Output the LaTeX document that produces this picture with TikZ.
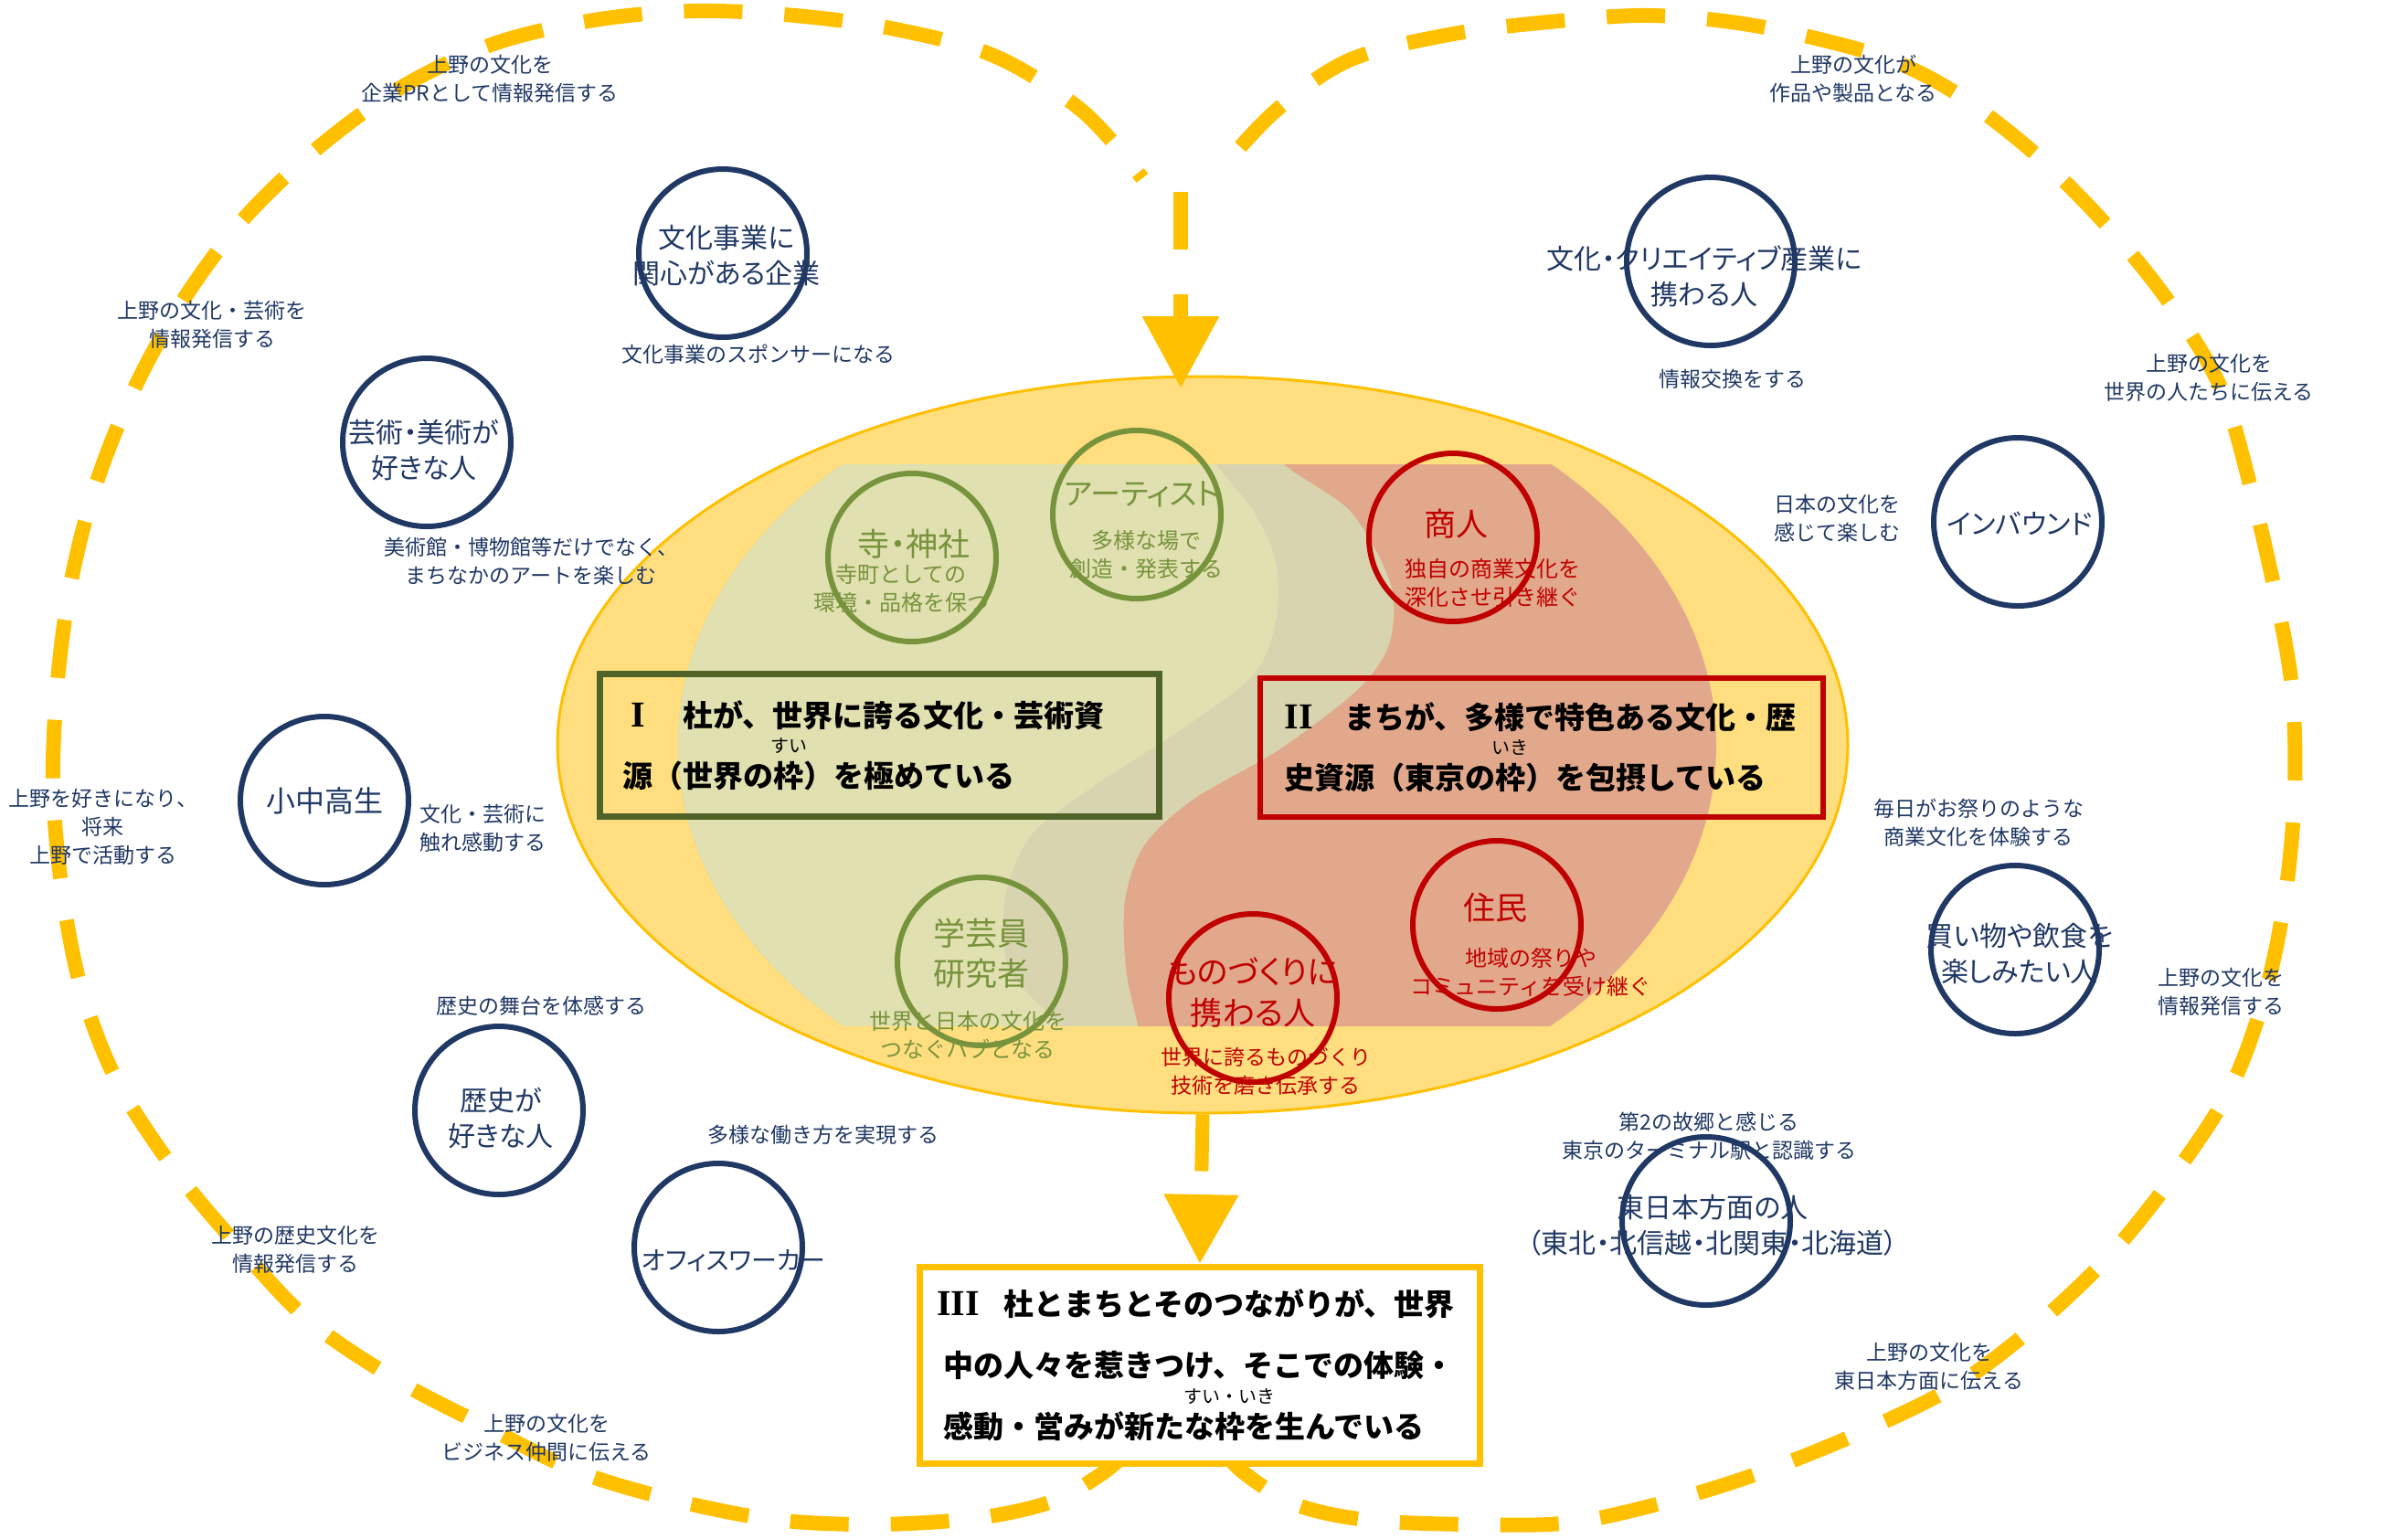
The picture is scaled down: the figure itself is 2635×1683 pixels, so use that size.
\documentclass[tikz,border=0pt]{standalone}
\usepackage{fontspec}
\setmainfont{Noto Sans CJK JP}
\newfontfamily\jpp{Noto Sans CJK JP}[RawFeature=+palt]
\newfontfamily\rmnumfont{Liberation Serif}
\usetikzlibrary{arrows.meta,shapes.geometric}
\definecolor{navy}{HTML}{203864}
\definecolor{gold}{HTML}{FFC000}
\definecolor{olive}{HTML}{77933C}
\definecolor{dkred}{HTML}{C00000}
\definecolor{boxgreen}{HTML}{4F6228}
\definecolor{ellfill}{HTML}{FFDE80}
\definecolor{greenarea}{HTML}{E0E0B0}
\definecolor{grayarea}{HTML}{D8D4B0}
\definecolor{salmon}{HTML}{E2A88C}
\newcommand{\rubyover}[2]{\leavevmode\makebox[0pt][l]{\makebox[1em][c]{\raisebox{1.15em}[0pt][0pt]{\mdseries\fontsize{10}{10}\selectfont #2}}}#1}
\newcommand{\rnum}[1]{\makebox[1em][c]{\rmnumfont\bfseries\fontsize{20}{20}\selectfont #1}}
\tikzset{
  loopline/.style={draw=gold, line width=8pt, dash pattern=on 32pt off 23pt},
  flowtop/.style={draw=gold, line width=8pt, dash pattern=on 31.5pt off 24.5pt, -{Triangle[width=40pt,length=39.5pt]}},
  flowbottom/.style={draw=gold, line width=7.5pt, dash pattern=on 31pt off 30pt, -{Triangle[width=39pt,length=38pt]}},
  coreell/.style={ellipse, fill=ellfill, draw=gold, line width=1.5pt, minimum width=706pt, minimum height=403pt, inner sep=0pt},
  navyring/.style={circle, draw=navy, line width=3pt, minimum size=92pt, inner sep=0pt},
  greenring/.style={circle, draw=olive, line width=3pt, minimum size=92pt, inner sep=0pt},
  redring/.style={circle, draw=dkred, line width=3pt, minimum size=92pt, inner sep=0pt},
  navytext/.style={text=navy, align=center, inner sep=0pt, font=\jpp\fontsize{15}{19.5}\selectfont},
  lbl/.style={text=navy, align=center, inner sep=0pt, font=\fontsize{11.5}{15.5}\selectfont},
  gbig/.style={text=olive, align=center, inner sep=0pt, font=\jpp\fontsize{17.5}{22}\selectfont},
  gsmall/.style={text=olive, align=center, inner sep=0pt, font=\fontsize{12}{15.5}\selectfont},
  rbig/.style={text=dkred, align=center, inner sep=0pt, font=\jpp\fontsize{17.5}{22.5}\selectfont},
  rsmall/.style={text=dkred, align=center, inner sep=0pt, font=\fontsize{12}{15.5}\selectfont},
  boxtext/.style={align=left, text=black, font=\bfseries\fontsize{16.5}{33}\selectfont},
  boxone/.style={boxtext, draw=boxgreen, line width=3.5pt, minimum width=306pt, minimum height=78pt, inner xsep=12.75pt, text width=280.5pt},
  boxtwo/.style={boxtext, draw=dkred, line width=3pt, minimum width=308pt, minimum height=76pt, inner xsep=13pt, text width=282pt},
  boxthree/.style={boxtext, draw=gold, fill=white, line width=3.5pt, minimum width=306.5pt, minimum height=107.5pt, inner xsep=12.75pt, text width=281pt, font=\bfseries\fontsize{16.5}{33.5}\selectfont},
}
\begin{document}
\begin{tikzpicture}[x=0.5pt,y=-0.5pt]
\useasboundingbox (0,0) rectangle (2635,1683);
\fill[white] (0,0) rectangle (2635,1683);

% dashed loops
\draw[loopline] plot[smooth, tension=0.55] coordinates {(1238,1585) (1205,1613) (1151,1643) (1070,1661) (960,1668) (849,1663) (740,1642) (632,1610) (530,1560) (434,1510) (338,1445) (262,1365) (191,1280) (128,1183) (89,1082) (68,975) (58,860) (63,745) (78,635) (105,530) (147,425) (202,326) (268,238) (350,160) (440,95) (540,48) (650,22) (760,12) (870,17) (980,32) (1090,62) (1185,122) (1250,195)};
\draw[loopline] plot[smooth, tension=0.55] coordinates {(1335,1585) (1363,1613) (1417,1646) (1495,1663) (1607,1668) (1719,1666) (1832,1641) (1933,1609) (2039,1566) (2140,1516) (2228,1450) (2309,1373) (2378,1287) (2441,1190) (2479,1086) (2501,978) (2511,864) (2508,753) (2490,650) (2462,530) (2430,424) (2373,330) (2302,243) (2222,164) (2134,98) (2050,59) (1920,28) (1806,17) (1695,24) (1585,38) (1476,66) (1395,122) (1330,192)};

% core ellipse
\node[coreell] (core) at (1316,815) {};
\begin{scope}
  \clip (600,508) rectangle (2050,1122);
  \clip (1310,815) ellipse [x radius=568, y radius=420];
  \fill[salmon] (600,400) rectangle (2050,1200);
  \fill[grayarea] plot[smooth] coordinates {(1390,470) (1405,508) (1478,560) (1522,640) (1520,705) (1485,755) (1400,820) (1305,875) (1252,925) (1231,985) (1232,1060) (1245,1122) (1252,1160)} -- (600,1200) -- (600,400) -- cycle;
  \fill[greenarea] plot[smooth] coordinates {(1300,470) (1330,508) (1372,560) (1396,615) (1396,680) (1371,739) (1290,800) (1200,858) (1130,912) (1100,980) (1104,1060) (1160,1122) (1190,1160)} -- (600,1200) -- (600,400) -- cycle;
\end{scope}

% top arrow
\coordinate (cusp) at (1292,210);
\coordinate (coretip) at (1292,425);
\draw[flowtop] (cusp) -- (coretip);

% inner circles
\node[greenring] (g1) at (998,610) {};
\node[gbig] (g1a) at (1000,595) {寺・神社};
\node[gsmall] (g1b) at (986,644) {寺町としての\\環境・品格を保つ};
\node[greenring] (g2) at (1244,563) {};
\node[gbig, font=\jpp\fontsize{16.5}{20}\selectfont] (g2a) at (1250,541) {アーティスト};
\node[gsmall] (g2b) at (1254,607) {多様な場で\\創造・発表する};
\node[greenring] (g3) at (1074,1052) {};
\node[gbig] (g3a) at (1074,1043) {学芸員\\研究者};
\node[gsmall] (g3b) at (1059,1133) {世界と日本の文化を\\つなぐハブとなる};

\node[redring] (r1) at (1590,588) {};
\node[rbig] (r1a) at (1593,573) {商人};
\node[rsmall] (r1b) at (1633,638) {独自の商業文化を\\深化させ引き継ぐ};
\node[redring] (r2) at (1638,1012) {};
\node[rbig] (r2a) at (1636,993) {住民};
\node[rsmall] (r2b) at (1675,1064) {地域の祭りや\\コミュニティを受け継ぐ};
\node[redring] (r3) at (1371,1092) {};
\node[rbig] (r3a) at (1371,1086) {ものづくりに\\携わる人};
\node[rsmall, font=\fontsize{11.5}{15.5}\selectfont] (r3b) at (1385,1172) {世界に誇るものづくり\\技術を磨き伝承する};

% boxes
\node[boxone] (box1) at (962,815.5) {\rnum{I}　杜が、世界に誇る文化・芸術資\\源（世界の\rubyover{枠}{すい}）を極めている};
\node[boxtwo] (box2) at (1687,818) {\rnum{II}　まちが、多様で特色ある文化・歴\\史資源（東京の\rubyover{枠}{いき}）を包摂している};
\node[boxthree] (box3) at (1313,1494) {\rnum{III}　杜とまちとそのつながりが、世界\\中の人々を惹きつけ、そこでの体験・\\感動・営みが新たな\rubyover{枠}{すい・いき}を生んでいる};
\draw[flowbottom] (core.south) -- (box3.north);

% navy circles
\node[navyring] (c1) at (791,277) {};
\node[navytext] (c1t) at (795,280) {文化事業に\\関心がある企業};
\node[navyring] (c2) at (467,484) {};
\node[navytext] (c2t) at (464,493) {芸術・美術が\\好きな人};
\node[navyring] (c3) at (355,876) {};
\node[navytext, font=\jpp\fontsize{16}{19.5}\selectfont] (c3t) at (355,876) {小中高生};
\node[navyring] (c4) at (546,1215) {};
\node[navytext] (c4t) at (548,1224) {歴史が\\好きな人};
\node[navyring] (c5) at (786,1365) {};
\node[navytext, font=\jpp\fontsize{14}{19.5}\selectfont] (c5t) at (803,1380) {オフィスワーカー};
\node[navyring] (c6) at (1872,286) {};
\node[navytext] (c6t) at (1865,302) {文化・クリエイティブ産業に\\携わる人};
\node[navyring] (c7) at (2208,571) {};
\node[navytext] (c7t) at (2210,573) {インバウンド};
\node[navyring] (c8) at (2205,1039) {};
\node[navytext] (c8t) at (2210,1044) {買い物や飲食を\\楽しみたい人};
\node[navyring] (c9) at (1867,1336) {};
\node[navytext] (c9t) at (1874,1341) {東日本方面の人\\（東北・北信越・北関東・北海道）};

% labels
\node[lbl] (l1) at (536,86) {上野の文化を\\企業PRとして情報発信する};
\node[lbl] (l2) at (232,355) {上野の文化・芸術を\\情報発信する};
\node[lbl] (l3) at (830,388) {文化事業のスポンサーになる};
\node[lbl] (l4) at (581,614) {美術館・博物館等だけでなく、\\まちなかのアートを楽しむ};
\node[lbl] (l5) at (113,905) {上野を好きになり、\\将来\\上野で活動する};
\node[lbl] (l6) at (528,906) {文化・芸術に\\触れ感動する};
\node[lbl] (l7) at (592,1101) {歴史の舞台を体感する};
\node[lbl] (l8) at (901,1242) {多様な働き方を実現する};
\node[lbl] (l9) at (323,1367) {上野の歴史文化を\\情報発信する};
\node[lbl] (l10) at (598,1573) {上野の文化を\\ビジネス仲間に伝える};
\node[lbl] (l11) at (2028,86) {上野の文化が\\作品や製品となる};
\node[lbl] (l12) at (1896,415) {情報交換をする};
\node[lbl] (l13) at (2417,413) {上野の文化を\\世界の人たちに伝える};
\node[lbl] (l14) at (2010,567) {日本の文化を\\感じて楽しむ};
\node[lbl] (l15) at (2165,900) {毎日がお祭りのような\\商業文化を体験する};
\node[lbl] (l16) at (2430,1085) {上野の文化を\\情報発信する};
\node[lbl] (l17) at (1870,1243) {第2の故郷と感じる\\東京のターミナル駅と認識する};
\node[lbl] (l18) at (2111,1495) {上野の文化を\\東日本方面に伝える};
\end{tikzpicture}
\end{document}
